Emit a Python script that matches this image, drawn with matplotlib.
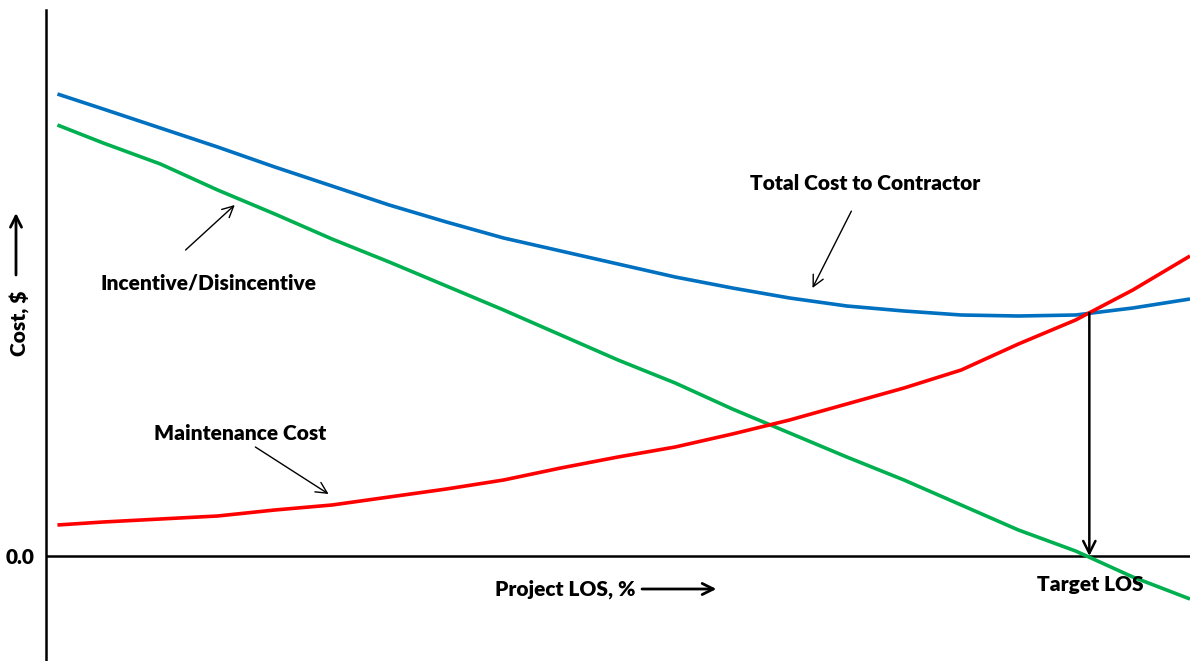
import numpy as np
import matplotlib.pyplot as plt

# -----------------------------
# Data (arbitrary cost units, 0 = zero line)
# -----------------------------
los = [1, 5, 10, 15, 20, 25, 30, 35, 40, 45, 50, 55, 60, 65, 70, 75, 80, 85, 90, 95, 100]
incentive = [431, 413, 392, 366, 342, 317, 294, 270, 246, 221, 196, 173, 147, 123,
             99, 76, 51, 26, 5, -21, -43]
maintenance = [31, 34, 37, 40, 46, 51, 59, 67, 76, 88, 99, 109, 122, 136,
               152, 168, 186, 212, 236, 266, 300]
total_cost = [462, 447, 428, 409, 389, 370, 351, 334, 318, 305, 292, 279, 268, 258,
              250, 245, 241, 240, 241, 248, 257]
target_los = 91.2
target_cost = 243

BLUE = '#0070C0'
GREEN = '#00B050'
RED = '#FF0000'

plt.rcParams['font.family'] = ['Lato', 'DejaVu Sans']
plt.rcParams['font.weight'] = 'heavy'
FS = 15

fig = plt.figure(figsize=(11.9, 6.61), dpi=100)
ax = fig.add_axes([46 / 1190, 0, 1144 / 1190, 651 / 661])

ax.plot(los, total_cost, color=BLUE, lw=2.6, solid_capstyle='butt')
ax.plot(los, incentive, color=GREEN, lw=2.6, solid_capstyle='butt')
ax.plot(los, maintenance, color=RED, lw=2.6, solid_capstyle='butt')

ax.axhline(0, color='black', lw=1.8, zorder=1)

ax.set_xlim(0, 100)
ax.set_ylim(-105, 546)
ax.set_xticks([])
ax.set_yticks([0])
ax.set_yticklabels(['0.0'], fontsize=FS, fontweight='heavy')
ax.tick_params(axis='y', length=0, pad=8)
for s in ['top', 'right', 'bottom']:
    ax.spines[s].set_visible(False)
ax.spines['left'].set_linewidth(1.8)

thin = dict(arrowstyle='->', color='black', lw=1.0, mutation_scale=20)

ax.annotate('Total Cost to Contractor', xy=(67.0, 268), xytext=(71.6, 372),
            ha='center', va='center', fontsize=FS, fontweight='heavy',
            arrowprops=dict(thin, shrinkA=12, shrinkB=0))
ax.annotate('', xy=(16.5, 351), xytext=(12.2, 306), arrowprops=dict(thin, shrinkA=0, shrinkB=0))
ax.text(14.2, 273, 'Incentive/Disincentive', ha='center', va='center',
        fontsize=FS, fontweight='heavy')
ax.annotate('', xy=(24.7, 62), xytext=(18.3, 109), arrowprops=dict(thin, shrinkA=0, shrinkB=0))
ax.text(17.0, 122, 'Maintenance Cost', ha='center', va='center',
        fontsize=FS, fontweight='heavy')

# target LOS drop line
ax.annotate('', xy=(target_los, 0), xytext=(target_los, target_cost),
            arrowprops=dict(arrowstyle='->', color='black', lw=1.8,
                            mutation_scale=22, shrinkA=0, shrinkB=0))
ax.text(target_los + 0.1, -29, 'Target LOS', ha='center', va='center',
        fontsize=FS, fontweight='heavy')

# axis captions
ax.text(45.4, -33, 'Project LOS, %', ha='center', va='center',
        fontsize=FS, fontweight='heavy')
ax.annotate('', xy=(58.6, -33), xytext=(52.1, -33),
            arrowprops=dict(arrowstyle='->', color='black', lw=2.0,
                            mutation_scale=20, shrinkA=0, shrinkB=0))
fig.text(20 / 1190, 1 - 323 / 661, 'Cost, $', rotation=90, ha='center', va='center',
         fontsize=FS, fontweight='heavy')
ax.annotate('', xy=(16, 661 - 213), xytext=(16, 661 - 275),
            xycoords='figure pixels', textcoords='figure pixels',
            arrowprops=dict(arrowstyle='->', color='black', lw=2.0,
                            mutation_scale=20, shrinkA=0, shrinkB=0))

fig.savefig('out.png', dpi=100)
